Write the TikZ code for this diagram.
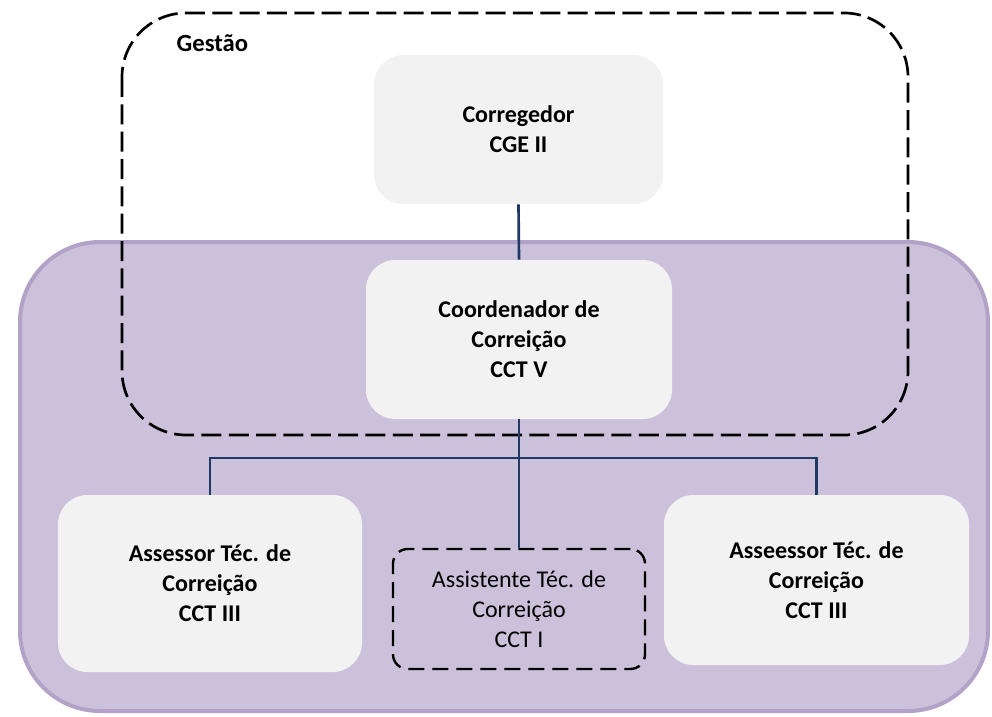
\documentclass[tikz,border=0pt]{standalone}
\usepackage{fontspec}
\setmainfont{Carlito}
\usetikzlibrary{positioning}

\definecolor{lilacfill}{HTML}{CCC1DA}
\definecolor{lilacline}{HTML}{B3A2C7}
\definecolor{boxgray}{HTML}{F2F2F2}
\definecolor{linkblue}{HTML}{1F3864}

\begin{document}
\begin{tikzpicture}[x=0.75pt, y=-0.75pt,
    cargo/.style={fill=boxgray, rounded corners=22pt, align=center, font=\fontsize{18pt}{22.5pt}\selectfont\bfseries},
    apoio/.style={draw=black, line width=1.8pt, dash pattern=on 12pt off 6pt, rounded corners=11pt, align=center, font=\fontsize{18pt}{22.5pt}\selectfont},
    link/.style={draw=linkblue, line width=2pt}]
    \useasboundingbox (0,0) rectangle (992,717);

    % Area da corregedoria
    \draw[fill=lilacfill, draw=lilacline, line width=3pt, rounded corners=60pt] (20,242) rectangle (988,711);

    % Gestao
    \draw[line width=2pt, dash pattern=on 15pt off 5.5pt, rounded corners=48pt] (122,13) rectangle (908,435);
    \node[anchor=west, font=\fontsize{18.5pt}{22.5pt}\selectfont\bfseries] (gestao) at (172,43) {Gestão};

    % Cargos
    \node[cargo, minimum width=216.75pt, minimum height=111.75pt] (corr) at (518.5,129.5) {Corregedor\\CGE II};
    \node[cargo, minimum width=229.5pt, minimum height=119.25pt] (coord) at (519,339.5) {Coordenador de\\Correição\\CCT V};
    \node[cargo, minimum width=228pt, minimum height=132.75pt] (assesL) at (210,583.5) {Assessor Téc. de\\Correição\\CCT III};
    \node[cargo, minimum width=228.75pt, minimum height=127.5pt] (assesR) at (816.5,580) {Asseessor Téc. de\\Correição\\CCT III};
    \node[apoio, minimum width=189pt, minimum height=90pt] (assist) at (519,609) {Assistente Téc. de\\Correição\\CCT I};

    % Ligacoes
    \coordinate (bus) at (519,458);
    \draw[link] (corr.south) -- (coord.north);
    \draw[link] (coord.south) -- (assist.north);
    \draw[link] (assesL.north) |- (bus) -| (assesR.north);
\end{tikzpicture}
\end{document}
